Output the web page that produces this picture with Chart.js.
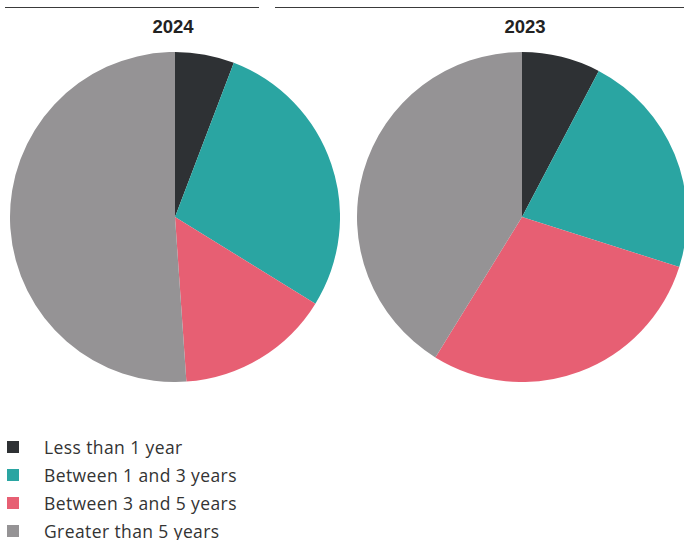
<!DOCTYPE html>
<html lang="en">
<head>
    <meta charset="UTF-8">
    <title>Tenure</title>
    <script src="https://cdn.jsdelivr.net/npm/chart.js"></script>
    <style>
        body { margin: 0; width: 684px; height: 540px; overflow: hidden; background: #fff; position: relative; font-family: "Open Sans", sans-serif; }
        .rule { position: absolute; top: 7px; height: 0; border-top: 1.5px solid #3a3a3a; }
        .title { position: absolute; top: 16px; font-family: "Liberation Sans", Arial, sans-serif; font-weight: bold; font-size: 18.5px; color: #222; text-align: center; width: 120px; }
        canvas { position: absolute; }
        #legend { position: absolute; left: 7px; top: 433px; }
        .item { height: 28px; display: flex; align-items: center; color: #333; font-size: 17.5px; letter-spacing: 0.4px; }
        .box { width: 12px; height: 12px; margin-right: 25px; }
    </style>
</head>
<body>
    <div class="rule" style="left:5px; width:254px"></div>
    <div class="rule" style="left:275px; width:409px"></div>
    <div class="title" style="left:113px">2024</div>
    <div class="title" style="left:465px">2023</div>
    <canvas id="pie2024" width="330" height="330" style="left:10px; top:52px"></canvas>
    <canvas id="pie2023" width="330" height="330" style="left:357px; top:52px"></canvas>
    <div id="legend"></div>

    <script>
        const categories = ["Less than 1 year", "Between 1 and 3 years", "Between 3 and 5 years", "Greater than 5 years"];
        const colors = ["#2e3134", "#2aa5a2", "#e75f73", "#959395"];
        const values2024 = [5.8, 28.0, 15.1, 51.1];
        const values2023 = [7.7, 22.2, 28.9, 41.2];

        function makePie(id, values) {
            return new Chart(document.getElementById(id), {
                type: 'pie',
                data: {
                    labels: categories,
                    datasets: [{
                        data: values,
                        backgroundColor: colors,
                        borderWidth: 0
                    }]
                },
                options: {
                    responsive: false,
                    animation: false,
                    layout: { padding: 0 },
                    plugins: {
                        legend: { display: false },
                        tooltip: { enabled: false }
                    }
                }
            });
        }

        makePie('pie2024', values2024);
        makePie('pie2023', values2023);

        const legend = document.getElementById('legend');
        categories.forEach((c, i) => {
            const row = document.createElement('div');
            row.className = 'item';
            row.innerHTML = '<span class="box" style="background:' + colors[i] + '"></span>' + c;
            legend.appendChild(row);
        });
    </script>
</body>
</html>
